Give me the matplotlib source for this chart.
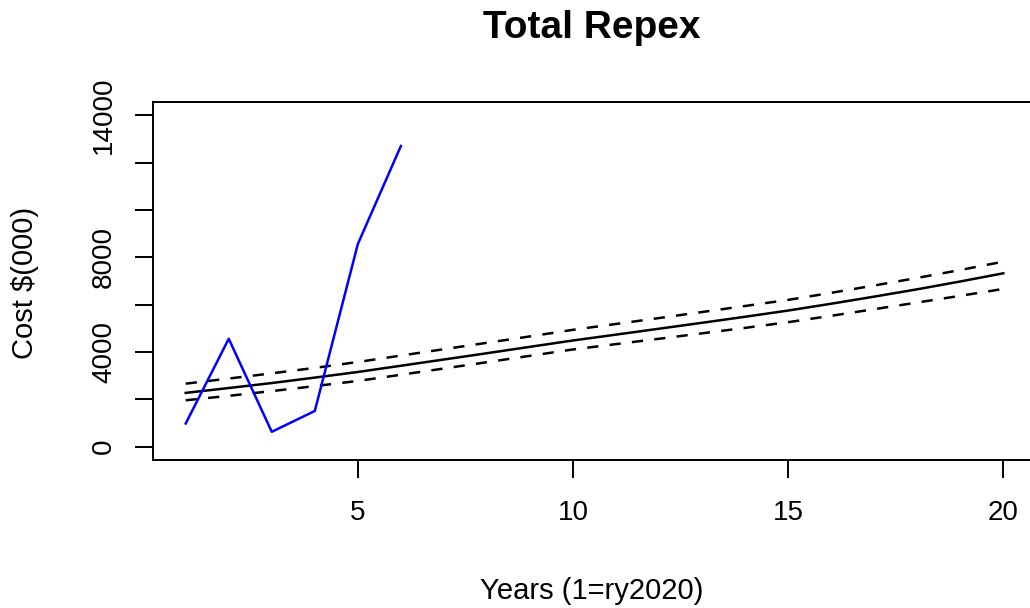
import matplotlib
matplotlib.use("Agg")
import matplotlib.pyplot as plt
import numpy as np

plt.rcParams['font.family'] = ['Liberation Sans', 'DejaVu Sans']

# daten
years = list(range(1, 21))
fit = [2274, 2480, 2690, 2920, 3158, 3420, 3685, 3950, 4220, 4488,
       4735, 4985, 5235, 5490, 5752, 6040, 6340, 6650, 6980, 7326]
fit_upper = [2665, 2880, 3100, 3330, 3579, 3850, 4120, 4390, 4660, 4939,
             5185, 5435, 5690, 5945, 6202, 6500, 6810, 7130, 7465, 7817]
fit_lower = [1962, 2150, 2350, 2560, 2779, 3040, 3305, 3570, 3840, 4109,
             4335, 4560, 4790, 5020, 5261, 5530, 5810, 6090, 6375, 6665]
actual_years = [1, 2, 3, 4, 5, 6]
actual = [980, 4560, 630, 1510, 8560, 12700]

x_ticks = [5, 10, 15, 20]
y_ticks = [0, 2000, 4000, 6000, 8000, 10000, 12000, 14000]
y_ticklabels = ['0', '', '4000', '', '8000', '', '', '14000']

W, H = 1030, 608
fig = plt.figure(figsize=(W / 100, H / 100), dpi=100)
# achse ragt rechts etwas ueber das bild hinaus (wie im original)
ax = fig.add_axes([153 / W, 1 - 460 / H, (1036 - 153) / W, (460 - 102) / H])

ax.plot(years, fit, color='black', lw=1.8)
ax.plot(years, fit_upper, color='black', lw=1.8, dashes=(4.5, 4.5))
ax.plot(years, fit_lower, color='black', lw=1.8, dashes=(4.5, 4.5))
ax.plot(actual_years, actual, color='#0000FF', lw=1.8)

ax.set_xlim(0.24, 20.76)
ax.set_ylim(-560, 14560)

ax.set_xticks(x_ticks)
ax.set_xticklabels([str(t) for t in x_ticks])
ax.set_yticks(y_ticks)
ax.set_yticklabels(y_ticklabels, rotation=90, va='center')

for s in ax.spines.values():
    s.set_linewidth(1.4)
ax.tick_params(length=13, width=1.4, labelsize=20)
ax.tick_params(axis='x', pad=16)
ax.tick_params(axis='y', pad=13)

# titel + achsenbeschriftung
fig.text(592 / W, 1 - 28 / H, 'Total Repex', fontsize=28, fontweight='bold',
         ha='center', va='center')
fig.text(592 / W, 1 - 591 / H, 'Years (1=ry2020)', fontsize=21,
         ha='center', va='center')
fig.text(25 / W, 1 - 283 / H, 'Cost $(000)', fontsize=21, rotation=90,
         ha='center', va='center')

fig.savefig('out.png', dpi=100)
